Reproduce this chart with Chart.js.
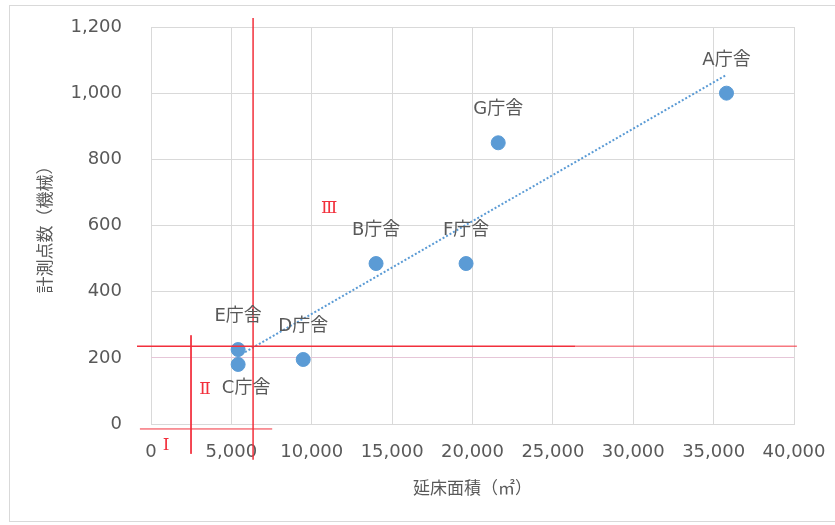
<!DOCTYPE html>
<html>
<head>
<meta charset="utf-8">
<script src="https://cdn.jsdelivr.net/npm/chart.js@4"></script>
<style>
	html, body { margin: 0; padding: 0; background: #fff; }
	.chartBox { position: relative; width: 835px; height: 525px; overflow: hidden; }
	.frame { position: absolute; left: 9px; top: 5px; width: 840px; height: 517px; border: 1px solid #d9d9d9; box-sizing: border-box; }
	#myChart { position: absolute; left: 0; top: 0; }
</style>
</head>
<body>
<div class="chartBox">
	<div class="frame"></div>
	<canvas id="myChart" width="835" height="525"></canvas>
</div>
<script>
// 庁舎ごとの延床面積と計測点数
const buildings = ['A庁舎', 'B庁舎', 'C庁舎', 'D庁舎', 'E庁舎', 'F庁舎', 'G庁舎'];
const floorArea = [35800, 14000, 5420, 9470, 5420, 19600, 21600];
const sensorPoints = [1000, 485, 180, 195, 225, 485, 850];

// 線形近似（点線）の両端
const trendArea = [5420, 35800];
const trendPoints = [205, 1055];

// 区分線（赤）: 主区分
const dividerArea = 6350;
const dividerPoints = 235;
const dividerAreaSpan = [-870, 26400, 40180];
const dividerPointsSpan = [-108, 1227];
// 区分線（赤）: 小区分
const subDividerArea = 2490;
const subDividerPoints = -15;
const subDividerAreaSpan = [-690, 7540];
const subDividerPointsSpan = [-90, 268];

// 区分名
const zoneNames = ['Ⅰ', 'Ⅱ', 'Ⅲ'];
const zoneArea = [935, 3360, 11090];
const zonePoints = [-66, 105, 650];

// 軸
const axisArea = { min: 0, max: 40000, step: 5000 };
const axisPoints = { min: 0, max: 1200, step: 200 };

const textColor = '#595959';
const gridColor = '#d9d9d9';
const red = '#f2303c';
const blue = '#5b9bd5';

const toXY = (xs, ys) => xs.map((x, i) => ({ x: x, y: ys[i] }));

const lineSet = (data, color, width) => ({
	type: 'line',
	data: data,
	borderColor: color,
	borderWidth: width,
	pointRadius: 0,
	pointHoverRadius: 0,
	fill: false,
	clip: false,
	tension: 0,
});

// ラベルと区分名の描画
const labelPlugin = {
	id: 'pointLabels',
	afterDatasetsDraw(chart) {
		const { ctx, scales } = chart;
		const xs = scales.x;
		const ys = scales.y;
		ctx.save();
		ctx.textAlign = 'center';
		ctx.textBaseline = 'middle';
		ctx.font = '18px "DejaVu Sans", "Noto Sans CJK JP", sans-serif';
		ctx.fillStyle = textColor;
		buildings.forEach((name, i) => {
			const below = name === 'C庁舎';
			const px = xs.getPixelForValue(floorArea[i]) + (below ? 8 : 0);
			const py = ys.getPixelForValue(sensorPoints[i]) + (below ? 24 : -33);
			ctx.fillText(name, px, py);
		});
		ctx.font = '17px "DejaVu Serif", "Noto Sans CJK JP", serif';
		ctx.fillStyle = red;
		zoneNames.forEach((z, i) => {
			ctx.fillText(z, xs.getPixelForValue(zoneArea[i]), ys.getPixelForValue(zonePoints[i]));
		});
		ctx.restore();
	},
};

const config = {
	type: 'scatter',
	data: {
		datasets: [
			lineSet([{ x: dividerArea, y: dividerPointsSpan[1] }, { x: dividerArea, y: dividerPointsSpan[0] }], red, 1.5),
			lineSet([{ x: dividerAreaSpan[0], y: dividerPoints }, { x: dividerAreaSpan[1], y: dividerPoints }], red, 1.5),
			lineSet([{ x: dividerAreaSpan[1], y: dividerPoints }, { x: dividerAreaSpan[2], y: dividerPoints }], 'rgba(242, 48, 60, 0.65)', 1.5),
			lineSet([{ x: subDividerArea, y: subDividerPointsSpan[1] }, { x: subDividerArea, y: subDividerPointsSpan[0] }], red, 1),
			lineSet([{ x: subDividerAreaSpan[0], y: subDividerPoints }, { x: subDividerAreaSpan[1], y: subDividerPoints }], red, 1),
			{
				label: '計測点数',
				data: toXY(floorArea, sensorPoints),
				backgroundColor: blue,
				borderColor: blue,
				pointRadius: 7,
				pointHoverRadius: 7,
			},
			Object.assign(lineSet(toXY(trendArea, trendPoints), blue, 2), {
				borderDash: [2, 2],
			}),
		],
	},
	options: {
		responsive: false,
		animation: false,
		events: [],
		layout: { padding: { left: 0, top: 27, right: 41, bottom: 0 } },
		plugins: {
			legend: { display: false },
			tooltip: { enabled: false },
		},
		scales: {
			x: {
				type: 'linear',
				min: axisArea.min,
				max: axisArea.max,
				afterFit: (scale) => {
					scale.height = 101;
					scale.paddingLeft = 0;
					scale.paddingRight = 0;
				},
				grid: { color: gridColor, drawTicks: false },
				border: { color: gridColor },
				ticks: {
					stepSize: axisArea.step,
					padding: 18,
					color: textColor,
					font: { family: '"DejaVu Sans", sans-serif', size: 18 },
					callback: (v) => v.toLocaleString('en-US'),
				},
				title: {
					display: true,
					text: '延床面積（㎡）',
					color: textColor,
					font: { family: '"Noto Sans CJK JP", sans-serif', size: 17 },
					padding: { top: 0, bottom: 27 },
				},
			},
			y: {
				type: 'linear',
				min: axisPoints.min,
				max: axisPoints.max,
				afterFit: (scale) => {
					scale.width = 151;
					scale.paddingTop = 0;
					scale.paddingBottom = 0;
				},
				grid: {
					color: (c) => (c.tick && c.tick.value === 200 ? '#e6c6d8' : gridColor),
					drawTicks: false,
				},
				border: { display: false },
				ticks: {
					stepSize: axisPoints.step,
					padding: 29,
					color: textColor,
					font: { family: '"DejaVu Sans", sans-serif', size: 18 },
					callback: (v) => v.toLocaleString('en-US'),
				},
				title: {
					display: true,
					text: '計測点数（機械）',
					color: textColor,
					font: { family: '"Noto Sans CJK JP", sans-serif', size: 17 },
					padding: { top: 34, bottom: 0 },
				},
			},
		},
	},
	plugins: [labelPlugin],
};

const myChart = new Chart(document.getElementById('myChart'), config);
</script>
</body>
</html>
